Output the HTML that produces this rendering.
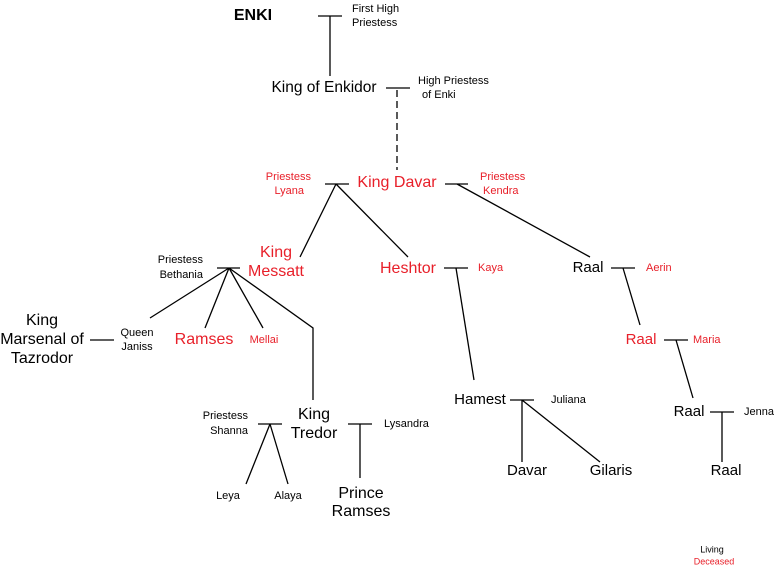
<!DOCTYPE html>
<html><head><style>body{margin:0;background:#fff}svg{display:block}</style></head><body>
<svg width="778" height="567" viewBox="0 0 778 567" xmlns="http://www.w3.org/2000/svg" font-family="Liberation Sans, sans-serif">
<g stroke="#000" stroke-width="1.3" fill="none">
<path d="M318 16H342M330 16V76"/>
<path d="M386 88H410"/>
<path d="M397 90V170" stroke-dasharray="7,4"/>
<path d="M325 184H349M336 184L300 257M336 184L408 257"/>
<path d="M445 184H468M457 184L590 257"/>
<path d="M217 268H240M229 268L150 318M229 268L205 328M229 268L263 328M229 268L313 328V400"/>
<path d="M444 268H468M456 268L474 380"/>
<path d="M611 268H635M623 268L640 325"/>
<path d="M664 340H688M676 340L693 398"/>
<path d="M710 412H734M722 412V462"/>
<path d="M90 340H114"/>
<path d="M510 400H534M522 400V462M522 400L600 462"/>
<path d="M258 424H282M270 424L246 484M270 424L288 484"/>
<path d="M348 424H372M360 424V478"/>
</g>
<g fill="#000" dominant-baseline="middle">
<text x="253" y="16" font-size="16" font-weight="bold" text-anchor="middle">ENKI</text>
<text x="352" y="9" font-size="11">First High</text>
<text x="352" y="23" font-size="11">Priestess</text>
<text x="324" y="88" font-size="15.5" text-anchor="middle">King of Enkidor</text>
<text x="418" y="81" font-size="11">High Priestess</text>
<text x="422" y="95" font-size="11">of Enki</text>
<text x="203" y="260" font-size="11" text-anchor="end">Priestess</text>
<text x="203" y="275" font-size="11" text-anchor="end">Bethania</text>
<text x="588" y="268" font-size="15" text-anchor="middle">Raal</text>
<text x="689" y="412" font-size="15" text-anchor="middle">Raal</text>
<text x="744" y="412" font-size="11">Jenna</text>
<text x="726" y="471" font-size="15" text-anchor="middle">Raal</text>
<text x="42" y="321" font-size="16" text-anchor="middle">King</text>
<text x="42" y="340" font-size="16" text-anchor="middle">Marsenal of</text>
<text x="42" y="359" font-size="16" text-anchor="middle">Tazrodor</text>
<text x="137" y="333" font-size="11" text-anchor="middle">Queen</text>
<text x="137" y="347" font-size="11" text-anchor="middle">Janiss</text>
<text x="480" y="400" font-size="15" text-anchor="middle">Hamest</text>
<text x="551" y="400" font-size="11">Juliana</text>
<text x="527" y="471" font-size="15" text-anchor="middle">Davar</text>
<text x="611" y="471" font-size="15" text-anchor="middle">Gilaris</text>
<text x="314" y="415" font-size="16" text-anchor="middle">King</text>
<text x="314" y="434" font-size="16" text-anchor="middle">Tredor</text>
<text x="248" y="416" font-size="11" text-anchor="end">Priestess</text>
<text x="248" y="431" font-size="11" text-anchor="end">Shanna</text>
<text x="228" y="496" font-size="11" text-anchor="middle">Leya</text>
<text x="288" y="496" font-size="11" text-anchor="middle">Alaya</text>
<text x="384" y="424" font-size="11">Lysandra</text>
<text x="361" y="494" font-size="16" text-anchor="middle">Prince</text>
<text x="361" y="512" font-size="16" text-anchor="middle">Ramses</text>
<text x="712" y="550" font-size="9" text-anchor="middle">Living</text>
</g>
<g fill="#e8202a" dominant-baseline="middle">
<text x="397" y="183" font-size="16" text-anchor="middle">King Davar</text>
<text x="311" y="177" font-size="11" text-anchor="end">Priestess</text>
<text x="304" y="191" font-size="11" text-anchor="end">Lyana</text>
<text x="480" y="177" font-size="11">Priestess</text>
<text x="483" y="191" font-size="11">Kendra</text>
<text x="276" y="253" font-size="16" text-anchor="middle">King</text>
<text x="276" y="272" font-size="16" text-anchor="middle">Messatt</text>
<text x="408" y="269" font-size="16" text-anchor="middle">Heshtor</text>
<text x="478" y="268" font-size="11">Kaya</text>
<text x="646" y="268" font-size="11">Aerin</text>
<text x="641" y="340" font-size="15" text-anchor="middle">Raal</text>
<text x="693" y="340" font-size="11">Maria</text>
<text x="204" y="340" font-size="16" text-anchor="middle">Ramses</text>
<text x="264" y="340" font-size="11" text-anchor="middle">Mellai</text>
<text x="714" y="562" font-size="9" text-anchor="middle">Deceased</text>
</g>
</svg>
</body></html>
